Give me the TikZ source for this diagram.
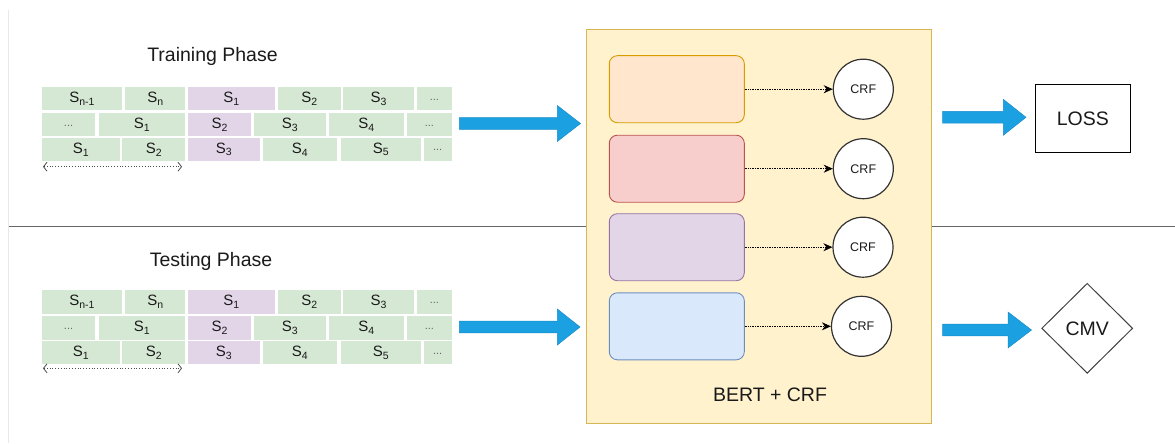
\documentclass[tikz,border=0pt]{standalone}
\usepackage{fontspec}
\setmainfont{Liberation Sans}
\usetikzlibrary{arrows.meta,shapes.geometric}
\definecolor{cellG}{HTML}{D5E8D4}
\definecolor{cellP}{HTML}{E1D5E7}
\definecolor{bertF}{HTML}{FFF2CC}
\definecolor{bertD}{HTML}{D6B656}
\definecolor{orF}{HTML}{FFE6CC}
\definecolor{orD}{HTML}{D79B00}
\definecolor{reF}{HTML}{F8CECC}
\definecolor{reD}{HTML}{B85450}
\definecolor{puF}{HTML}{E1D5E7}
\definecolor{puD}{HTML}{9673A6}
\definecolor{blF}{HTML}{DAE8FC}
\definecolor{blD}{HTML}{6C8EBF}
\definecolor{arrowBlue}{HTML}{1BA1E2}
\definecolor{arrowBlueD}{HTML}{1A8CCB}
\definecolor{txt}{HTML}{1A1A1A}
\newcommand\sbx[1]{\raisebox{-0.35ex}{\fontsize{10.5}{12}\selectfont #1}}
\newcommand\ddd{\raisebox{-0.4ex}{\fontsize{11}{12}\selectfont\color{black!60}...}}
\tikzset{
  cellbox/.style={draw=none, inner sep=0pt, anchor=north west, text=txt,
    font=\fontsize{15}{18}\selectfont},
  title/.style={text=txt, font=\fontsize{19.5}{22}\selectfont},
  layerbox/.style={rounded corners=8pt, line width=0.9pt, minimum width=135pt,
    minimum height=67pt, inner sep=0pt},
  crf/.style={circle, draw=black!80, line width=1.2pt, fill=white,
    minimum size=60pt, inner sep=0pt, text=txt, font=\fontsize{12.5}{14}\selectfont},
  dotarrow/.style={densely dotted, line width=0.7pt, draw=black,
    -{Stealth[length=9pt,width=8pt]}},
  spanarrow/.style={dotted, line width=0.8pt, draw=black!70,
    {Straight Barb[length=3.5pt,width=9pt]}-{Straight Barb[length=3.5pt,width=9pt]}},
  blockarrow/.style={fill=arrowBlue, draw=arrowBlueD, line width=0.5pt},
}
% #1 prefix, #2 row number, #3 y top, #4 height, #5 list
\newcommand\seqrow[5]{%
  \foreach \xa/\xb/\lab/\col [count=\i] in {#5} {
    \node[cellbox, fill=\col, minimum width={\xb-\xa}, minimum height=#4]
      (#1r#2c\i) at (\xa,#3) {\lab};
  }}
% block arrow: #1 x start, #2 x head base, #3 x tip, #4 y centre
\newcommand\blockarr[4]{%
  \path[blockarrow] (#1,#4-5.9) -- (#2,#4-5.9) -- (#2,#4-18) -- (#3,#4)
    -- (#2,#4+18) -- (#2,#4+5.9) -- (#1,#4+5.9) -- cycle;}
\newcommand\seqblock[2]{%
  \seqrow{#1}{1}{#2}{23.3}{41.7/121.7/{S\sbx{n-1}}/cellG, 125/185/{S\sbx{n}}/cellG,
    187.7/274.3/{S\sbx{1}}/cellP, 277.3/340.7/{S\sbx{2}}/cellG,
    342.7/414/{S\sbx{3}}/cellG, 416.7/451.7/{\ddd}/cellG}
  \seqrow{#1}{2}{#2+26}{23.3}{41.7/95/{\ddd}/cellG, 98.3/185/{S\sbx{1}}/cellG,
    187.7/251/{S\sbx{2}}/cellP, 253.7/325.7/{S\sbx{3}}/cellG,
    329/403.3/{S\sbx{4}}/cellG, 406.7/451.7/{\ddd}/cellG}
  \seqrow{#1}{3}{#2+51}{23}{41.7/119.3/{S\sbx{1}}/cellG, 122/185/{S\sbx{2}}/cellG,
    187.7/259.3/{S\sbx{3}}/cellP, 262.7/336.7/{S\sbx{4}}/cellG,
    340.7/420.7/{S\sbx{5}}/cellG, 423.3/451.7/{\ddd}/cellG}
}
\begin{document}
\begin{tikzpicture}[x=1pt,y=-1pt]
\useasboundingbox (0,0) rectangle (1175,444);
% frame lines
\draw[draw=black!9, line width=1pt] (8.5,10) -- (8.5,443);
\draw[draw=black!60, line width=1.3pt] (9,226.5) -- (1175,226.5);

% Training phase
\node[title] (trtitle) at (212.5,56) {Training Phase};
\seqblock{tr}{86.7}
\coordinate (trspanL) at (43,166.7);
\coordinate (trspanR) at (182,166.7);
\draw[spanarrow] (trspanL) -- (trspanR);

% Testing phase
\node[title] (tetitle) at (211,261.5) {Testing Phase};
\seqblock{te}{290}
\coordinate (tespanL) at (43,368.3);
\coordinate (tespanR) at (182,368.3);
\draw[spanarrow] (tespanL) -- (tespanR);

% BERT + CRF container
\node[draw=bertD, fill=bertF, line width=1pt, minimum width=345pt,
  minimum height=394.3pt, inner sep=0pt, anchor=north west] (bert) at (586,29) {};
\node[text=txt, font=\fontsize{19.5}{22}\selectfont] (bertlabel) at (770,395) {BERT + CRF};

\node[layerbox, fill=orF, draw=orD] (l1) at (676.8,89.2) {};
\node[layerbox, fill=reF, draw=reD] (l2) at (676.8,168.7) {};
\node[layerbox, fill=puF, draw=puD] (l3) at (676.8,247.2) {};
\node[layerbox, fill=blF, draw=blD] (l4) at (676.8,326.3) {};

\node[crf] (c1) at (863.3,89.2) {CRF};
\node[crf] (c2) at (863.3,168.7) {CRF};
\node[crf] (c3) at (863,247.2) {CRF};
\node[crf] (c4) at (861.5,326.3) {CRF};

\draw[dotarrow] (l1.east) -- (c1.west);
\draw[dotarrow] (l2.east) -- (c2.west);
\draw[dotarrow] (l3.east) -- (c3.west);
\draw[dotarrow] (l4.east) -- (c4.west);

% outputs
\node[draw=black, line width=1pt, minimum width=94.3pt, minimum height=68pt,
  inner sep=0pt, text=txt, font=\fontsize{19.5}{22}\selectfont] (loss) at (1082.9,118.3) {LOSS};
\node[diamond, draw=black!75, line width=1pt, minimum width=91pt, minimum height=90pt,
  inner sep=0pt, text=txt, font=\fontsize{19.5}{22}\selectfont] (cmv) at (1087.2,328.3) {CMV};

% block arrows
\blockarr{459.3}{557.3}{580.5}{123.5}
\blockarr{459.3}{557.3}{580}{327}
\blockarr{942.7}{1003.3}{1026}{117.3}
\blockarr{942.7}{1008}{1031.5}{330}
\end{tikzpicture}
\end{document}
